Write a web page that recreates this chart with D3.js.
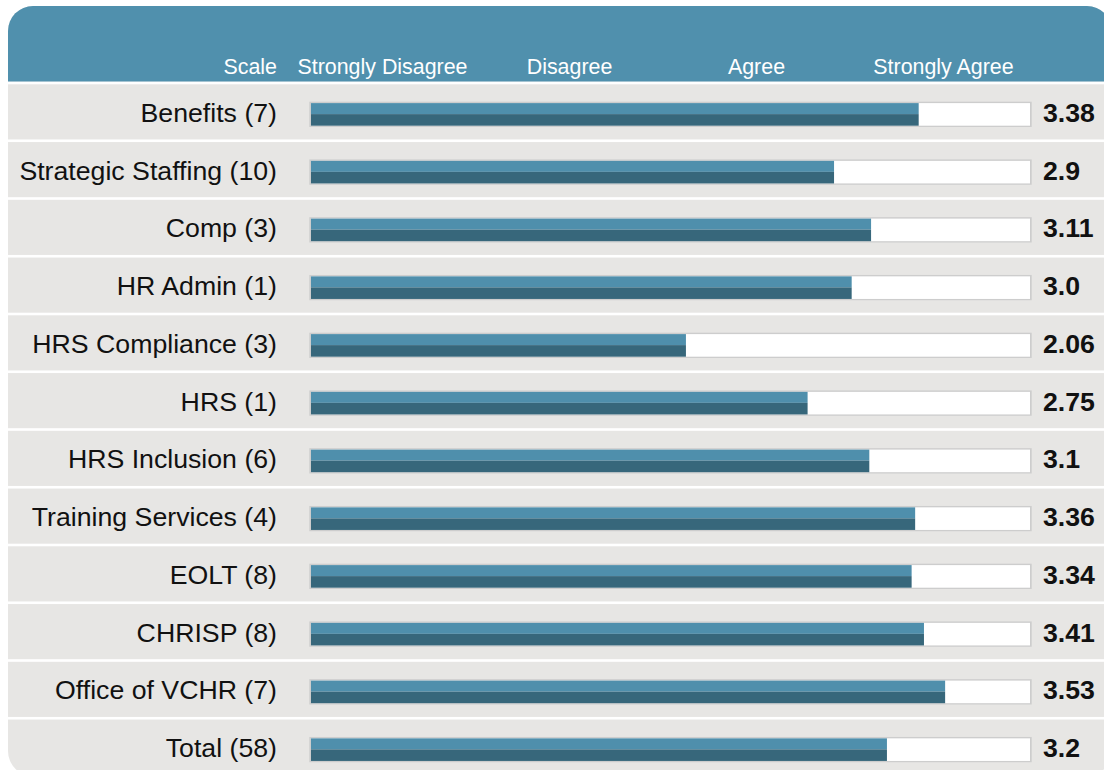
<!DOCTYPE html>
<html>
<head>
<meta charset="utf-8">
<script src="https://cdn.jsdelivr.net/npm/d3@7"></script>
<style>
  body { margin: 0; background: #fff; }
  svg { display: block; font-family: "Liberation Sans", Arial, sans-serif; }
</style>
</head>
<body>
<div id="container"></div>
<script>
document.addEventListener("DOMContentLoaded", () => {

    // data
    const units = ["Benefits (7)", "Strategic Staffing (10)", "Comp (3)", "HR Admin (1)",
        "HRS Compliance (3)", "HRS (1)", "HRS Inclusion (6)", "Training Services (4)",
        "EOLT (8)", "CHRISP (8)", "Office of VCHR (7)", "Total (58)"];
    const scores = [3.38, 2.9, 3.11, 3.0, 2.06, 2.75, 3.1, 3.36, 3.34, 3.41, 3.53, 3.2];
    const scoreLabels = ["3.38", "2.9", "3.11", "3.0", "2.06", "2.75", "3.1", "3.36", "3.34", "3.41", "3.53", "3.2"];
    const scaleLabels = ["Strongly Disagree", "Disagree", "Agree", "Strongly Agree"];

    const w = 1104;
    const h = 770;

    const card = { x: 8, y: 6, w: 1104, h: 770, r: 25 };
    const headerBottom = 81.7;
    const rowPitch = 57.75;
    const trackX0 = 311; // inner left edge of the bar track
    const trackX1 = 1030; // inner right edge

    const svg = d3.select("#container")
        .append("svg")
        .attr("width", w)
        .attr("height", h);

    // clip everything to the rounded card
    svg.append("clipPath")
        .attr("id", "cardClip")
        .append("rect")
        .attr("x", card.x)
        .attr("y", card.y)
        .attr("width", card.w)
        .attr("height", card.h)
        .attr("rx", card.r);

    const g = svg.append("g").attr("clip-path", "url(#cardClip)");

    g.append("rect")
        .attr("x", card.x)
        .attr("y", card.y)
        .attr("width", card.w)
        .attr("height", card.h)
        .attr("fill", "#e7e6e4");

    g.append("rect")
        .attr("x", card.x)
        .attr("y", card.y)
        .attr("width", card.w)
        .attr("height", headerBottom - card.y)
        .attr("fill", "#5090ad");

    // bar end position for a score (fitted to the reference)
    const x = d3.scaleLinear()
        .domain([0, 4])
        .range([322.7, 1028]);

    const y = d3.scaleBand()
        .domain(units)
        .range([headerBottom, headerBottom + rowPitch * units.length]);

    const header = d3.scaleBand()
        .domain(scaleLabels)
        .range([289, 1037]);

    // header texts
    g.append("text")
        .attr("x", 277)
        .attr("y", 74)
        .attr("text-anchor", "end")
        .attr("fill", "#fff")
        .style("font-size", "21.4px")
        .text("Scale");

    g.selectAll(".scale-label")
        .data(scaleLabels)
        .enter().append("text")
        .attr("class", "scale-label")
        .attr("x", (d) => header(d) + header.bandwidth() / 2)
        .attr("y", 74)
        .attr("text-anchor", "middle")
        .attr("fill", "#fff")
        .style("font-size", "21.4px")
        .text((d) => d);

    const rows = g.selectAll(".row")
        .data(units)
        .enter().append("g")
        .attr("class", "row")
        .attr("transform", (d) => `translate(0,${y(d)})`);

    // white separator at the top of each row
    rows.append("rect")
        .attr("x", card.x)
        .attr("y", 0)
        .attr("width", card.w)
        .attr("height", 2.6)
        .attr("fill", "#fff");

    rows.append("text")
        .attr("x", 277)
        .attr("y", 40.3)
        .attr("text-anchor", "end")
        .attr("fill", "#111")
        .style("font-size", "26.7px")
        .text((d) => d);

    // track: grey border, white inside
    rows.append("rect")
        .attr("x", trackX0 - 1.7)
        .attr("y", 20)
        .attr("width", trackX1 - trackX0 + 3.4)
        .attr("height", 25.3)
        .attr("fill", "#cdcdcd");

    rows.append("rect")
        .attr("x", trackX0)
        .attr("y", 21.4)
        .attr("width", trackX1 - trackX0)
        .attr("height", 22.6)
        .attr("fill", "#fff");

    rows.append("rect")
        .attr("x", trackX0)
        .attr("y", 21.4)
        .attr("width", (d, i) => x(scores[i]) - trackX0)
        .attr("height", 11)
        .attr("fill", "#4f8fac");

    rows.append("rect")
        .attr("x", trackX0)
        .attr("y", 32.4)
        .attr("width", (d, i) => x(scores[i]) - trackX0)
        .attr("height", 11.6)
        .attr("fill", "#37677b");

    rows.append("text")
        .attr("x", 1043)
        .attr("y", 40.3)
        .attr("fill", "#111")
        .style("font-size", "26.7px")
        .style("font-weight", "bold")
        .text((d, i) => scoreLabels[i]);
});
</script>
</body>
</html>
